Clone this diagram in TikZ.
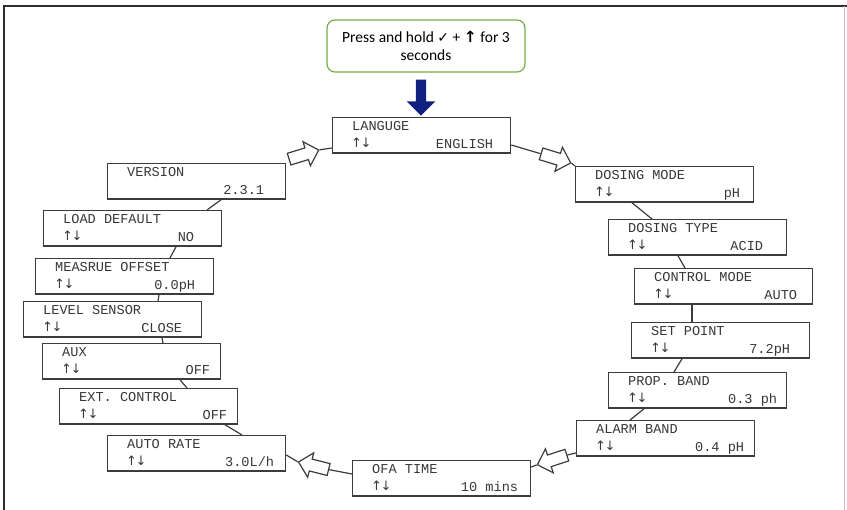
\documentclass[tikz,border=0pt]{standalone}
\usepackage{fontspec}
\setmainfont{Carlito}
\newfontfamily\lcdfont{Liberation Mono}
\newfontfamily\symfont{DejaVu Sans}
\usetikzlibrary{shapes.arrows,calc}
\definecolor{framegray}{RGB}{45,45,45}
\definecolor{boxgray}{RGB}{60,60,60}
\definecolor{txtgray}{RGB}{55,55,55}
\definecolor{notegreen}{RGB}{112,173,71}
\definecolor{navy}{RGB}{16,32,128}
\tikzset{
  lcd/.style={draw=boxgray, line width=1.3pt, minimum width=178pt, minimum height=35.5pt, inner sep=0pt, anchor=north west},
  lcdtxt/.style={font=\lcdfont\fontsize{13.6}{14}\selectfont, text=txtgray, inner sep=0pt},
  updown/.style={font=\symfont\fontsize{13}{14}\selectfont, text=txtgray, inner sep=0pt},
  hollow/.style={single arrow, draw=boxgray, fill=white, line width=1.2pt, minimum height=31pt, minimum width=0pt, single arrow head extend=6.5pt, inner xsep=0pt, inner ysep=5.5pt},
  link/.style={draw=boxgray, line width=1.2pt},
  notebox/.style={draw=notegreen, line width=1.2pt, rounded corners=8pt, minimum width=198pt, minimum height=52pt, align=center, font=\fontsize{15.5}{18}\selectfont, text=black, inner sep=0pt},
  startarrow/.style={single arrow, fill=navy, draw=none, minimum height=36pt, minimum width=0pt, single arrow head extend=9pt, inner xsep=0pt, inner ysep=5pt}
}
\newcommand\lcdbox[7]{%
  \node[lcd] (#1) at (#2,#3) {};
  \node[lcdtxt, anchor=base west] (#1t) at ($(#1.north west)+(20,13.5)$) {#4};
  \node[updown, anchor=base west] (#1a) at ($(#1.north west)+(19,30.5)$) {#5};
  \node[lcdtxt, anchor=base east] (#1v) at ($(#1.north east)+(-#7,32)$) {#6};
}
\newcommand\ud{↑\kern-1.5pt↓}
\begin{document}
\begin{tikzpicture}[x=1pt,y=-1pt]
\useasboundingbox (0,0) rectangle (847,510);
% frame
\coordinate (fbl) at (4,510);
\coordinate (ftl) at (4,6);
\coordinate (ftr) at (847,6);
\coordinate (frt) at (844,6);
\coordinate (frb) at (844,510);
\draw[framegray, line width=2pt] (fbl) -- (ftl) -- (ftr);
\draw[black!25, line width=0.8pt] (frt) -- (frb);

% start note
\node[notebox] (note) at (426,46) {Press and hold {\symfont\fontsize{14}{16}\selectfont ✓} + {\symfont\bfseries ↑} for 3\\seconds};
\node[startarrow, rotate=-90] (start) at (421,95) {};

% boxes
\lcdbox{lang}{332}{117}{LANGUGE}{\ud}{ENGLISH}{18}
\lcdbox{ver}{107}{163}{VERSION}{}{2.3.1}{22}
\lcdbox{ld}{43}{210}{LOAD DEFAULT}{\ud}{NO}{28}
\lcdbox{meas}{35}{258}{MEASRUE OFFSET}{\ud}{0.0pH}{19}
\lcdbox{lvl}{23}{301}{LEVEL SENSOR}{\ud}{CLOSE}{20}
\lcdbox{aux}{42}{343}{AUX}{\ud}{OFF}{11}
\lcdbox{ext}{59}{388}{EXT. CONTROL}{\ud}{OFF}{11}
\lcdbox{auto}{107}{435}{AUTO RATE}{\ud}{3.0L/h}{12}
\lcdbox{ofa}{352}{460}{OFA TIME}{\ud}{10 mins}{13}
\lcdbox{alarm}{576}{420}{ALARM BAND}{\ud}{0.4 pH}{11}
\lcdbox{prop}{608}{372}{PROP. BAND}{\ud}{0.3 ph}{10}
\lcdbox{set}{631}{322}{SET POINT}{\ud}{7.2pH}{20}
\lcdbox{ctrl}{634}{268}{CONTROL MODE}{\ud}{AUTO}{16}
\lcdbox{dost}{608}{219}{DOSING TYPE}{\ud}{ACID}{24}
\lcdbox{dosm}{575}{166}{DOSING MODE}{\ud}{pH}{14}

% plain connectors
\draw[link] ($(ver.south west)+(114,0)$) -- ($(ld.north west)+(164,0)$);
\draw[link] ($(ld.south west)+(133,0)$) -- ($(meas.north west)+(135,0)$);
\draw[link] ($(meas.south west)+(124,0)$) -- ($(lvl.north west)+(135,0)$);
\draw[link] ($(lvl.south west)+(139,0)$) -- ($(aux.north west)+(121,0)$);
\draw[link] ($(aux.south west)+(138,0)$) -- ($(ext.north west)+(128,0)$);
\draw[link] ($(ext.south west)+(166,0)$) -- ($(auto.north west)+(135,0)$);
\draw[link] ($(dosm.south west)+(57,0)$) -- ($(dost.north west)+(44,0)$);
\draw[link] ($(dost.south west)+(70,0)$) -- ($(ctrl.north west)+(51,0)$);
\draw[link] ($(ctrl.south west)+(58,0)$) -- ($(set.north west)+(61,0)$);
\draw[link] ($(set.south west)+(51,0)$) -- ($(prop.north west)+(66,0)$);
\draw[link] ($(prop.south west)+(36,0)$) -- ($(alarm.north west)+(54,0)$);

% hollow arrows
\node[hollow, rotate=17] (arA) at (301,155.5) {};
\node[hollow, rotate=-17] (arB) at (553,157.5) {};
\node[hollow, rotate=198] (arC) at (555,459) {};
\node[hollow, rotate=166] (arD) at (316.5,466.5) {};
\draw[link] (arA.tip) -- ($(lang.north west)+(0,31)$);
\draw[link] ($(lang.north east)+(0,28)$) -- (arB.tail);
\draw[link] (arB.tip) -- (dosm.north west);
\draw[link] ($(alarm.north west)+(0,33)$) -- (arC.tail);
\draw[link] (arC.tip) -- ($(ofa.north east)+(0,7)$);
\draw[link] ($(auto.north east)+(0,20)$) -- (arD.tip);
\draw[link] (arD.tail) -- ($(ofa.north west)+(0,14)$);
\end{tikzpicture}
\end{document}
